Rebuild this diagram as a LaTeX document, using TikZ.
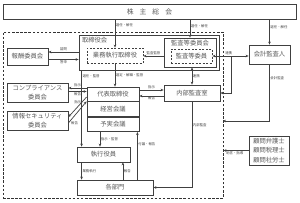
\documentclass[tikz,border=0pt]{standalone}
\usepackage{fontspec}
\setmainfont{Noto Sans CJK JP}
\usetikzlibrary{calc,arrows.meta}

\begin{document}
\begin{tikzpicture}[x=1pt,y=-1pt,
    box/.style={draw=black!75, line width=0.8pt, text=black!65, font=\fontsize{6.3}{8.5}\selectfont, inner sep=0pt, align=center},
    dbox/.style={box, dash pattern=on 2pt off 1.5pt},
    lbl/.style={font=\fontsize{3.4}{4}\selectfont, text=black!75, inner sep=0.6pt},
    link/.style={draw=black!75, line width=0.7pt, -{Stealth[length=3pt,width=2.6pt]}},
    linkb/.style={link, {Stealth[length=3pt,width=2.6pt]}-{Stealth[length=3pt,width=2.6pt]}}]
    \useasboundingbox (0,0) rectangle (300,202);

    \node[draw=black!80, line width=0.9pt, dash pattern=on 2.5pt off 1.6pt, minimum width=220pt, minimum height=166pt] (waku) at (113,115) {};

    \node[box, minimum width=293pt, minimum height=15pt, font=\fontsize{6.8}{8}\selectfont] (kabunushi) at (149.5,11.5) {株\hspace{6pt}主\hspace{6pt}総\hspace{6pt}会};

    \node[box, minimum width=140pt, minimum height=35pt] (torikai) at (149,52.5) {};
    \node[box, draw=none, anchor=north west] (torikaitxt) at ([xshift=3pt,yshift=-2.5pt]torikai.north west) {取締役会};
    \node[dbox, minimum width=56pt, minimum height=15pt] (gyomu) at (115,55.5) {業務執行取締役};
    \node[box, minimum width=52pt, minimum height=29pt] (kansakai) at (190,52.5) {};
    \node[box, draw=none, anchor=north] (kansakaitxt) at ([yshift=-2.5pt]kansakai.north) {監査等委員会};
    \node[dbox, minimum width=41pt, minimum height=14pt] (kansaiin) at (191.5,56) {監査等委員};
    \node[box, minimum width=41pt, minimum height=19pt] (kaikei) at (269.5,54.5) {会計監査人};

    \node[box, minimum width=41pt, minimum height=17pt] (hoshu) at (27.5,56.5) {報酬委員会};
    \node[box, minimum width=61pt, minimum height=19pt] (compl) at (37.5,92.5) {コンプライアンス\\委員会};
    \node[box, minimum width=61pt, minimum height=19pt] (joho) at (37.5,120.5) {情報セキュリティ\\委員会};

    \node[box, minimum width=52pt, minimum height=14pt] (daihyo) at (113,94) {代表取締役};
    \node[box, minimum width=52pt, minimum height=15pt, anchor=north] (keiei) at (daihyo.south) {経営会議};
    \node[box, minimum width=52pt, minimum height=14pt, anchor=north] (yojitsu) at (keiei.south) {予実会議};
    \node[box, minimum width=56pt, minimum height=16pt] (naibu) at (192,93) {内部監査室};
    \node[box, minimum width=53pt, minimum height=15pt] (shikko) at (103.5,154.5) {執行役員};
    \node[box, minimum width=76pt, minimum height=15pt] (kakubu) at (115,187.5) {各部門};
    \node[box, minimum width=40pt, minimum height=29pt, font=\fontsize{6.3}{9.5}\selectfont] (komon) at (269,150.5) {顧問弁護士\\顧問税理士\\顧問社労士};

    \coordinate (shimon) at ([yshift=4.5pt]hoshu.east);
    \coordinate (toshin) at ([yshift=-3pt]hoshu.east);
    \coordinate (renkei) at ([xshift=19pt]kansaiin.east);
    \coordinate (kaikeiend) at (223,121);
    \coordinate (shijiN) at ([yshift=4pt]daihyo.east);
    \coordinate (hokokuN) at ([yshift=-2pt]daihyo.east);
    \coordinate (shijiC) at ([yshift=6pt]daihyo.west);
    \coordinate (hokokuC) at ([yshift=2.5pt]daihyo.west);
    \coordinate (shijiJa) at ([yshift=-3pt]daihyo.west);
    \coordinate (shijiJb) at ([yshift=3.5pt]joho.east);
    \coordinate (hokokuJa) at ([yshift=-2.5pt]joho.east);
    \coordinate (hokokuJb) at (daihyo.south west);
    \coordinate (senninX) at ([xshift=5pt]shikko.north west);
    \coordinate (shijiK) at ([xshift=-3.5pt]shikko.north);
    \coordinate (hokokuS) at ([xshift=-7.5pt]shikko.south east);
    \coordinate (fugi) at ([xshift=-2pt]yojitsu.south east);

    \draw[link] (kabunushi.south -| gyomu.north) -- node[lbl, right, pos=0.22] {選任・解任} (gyomu.north);
    \draw[link] (kabunushi.south -| kansakai.north) -- node[lbl, right, pos=0.4] {選任・解任} (kansakai.north);
    \draw[link] (kabunushi.south -| kaikei.north) -- node[lbl, right, pos=0.3] {選任・解任} (kaikei.north);

    \draw[link] (kansakai.west |- kansaiin.west) -- node[lbl, above] {監査監督} (gyomu.east |- kansaiin.west);
    \draw[link] (torikai.west |- shimon) -- node[lbl, above] {諮問} (shimon);
    \draw[link] (toshin) -- node[lbl, below] {答申} (torikai.west |- toshin);

    \draw[linkb] (kansaiin.east) -- node[lbl, above, pos=0.45] {連携} (kaikei.west |- kansaiin.east);
    \draw[link] (renkei) |- (naibu.east);
    \draw[linkb] (naibu.north |- kansakai.south) -- node[lbl, right] {連携} (naibu.north);
    \draw[link] (kaikei.south) |- node[lbl, right, pos=0.12] {会計監査} (kaikeiend);
    \draw[link] (komon.west) -- node[lbl, below, pos=0.55] {助言・指導} (waku.east |- komon.west);
    \draw[link] (naibu.south) |- node[lbl, right, pos=0.14] {内部監査} (kakubu.east);

    \draw[link] (shijiN) -- node[lbl, above] {指示} (naibu.west |- shijiN);
    \draw[link] (naibu.west |- hokokuN) -- node[lbl, below] {報告} (hokokuN);
    \draw[link] (shijiC) -- node[lbl, above] {指示} (compl.east |- shijiC);
    \draw[link] (compl.east |- hokokuC) -- node[lbl, below] {報告} (hokokuC);
    \draw[link] (shijiJa) -- node[lbl, left, pos=0.25] {指示} (shijiJb);
    \draw[link] (hokokuJa) -- node[lbl, below right, pos=0.1] {報告} (hokokuJb);

    \draw[link] (torikai.south -| senninX) -- node[lbl, right, pos=0.07] {選任・監督} (senninX);
    \draw[link] (gyomu.south) -- node[lbl, right] {選定・解職・監督} (gyomu.south |- daihyo.north);
    \draw[link] (yojitsu.south -| shijiK) -- node[lbl, right] {指示・監督} (shijiK);
    \draw[link] (shikko.south -| senninX) -- node[lbl, right] {業務執行} (kakubu.north -| senninX);
    \draw[link] (kakubu.north -| hokokuS) -- node[lbl, right] {報告} (hokokuS);
    \draw[link] (kakubu.north -| fugi) -- node[lbl, right, pos=0.74] {付議・報告} (fugi);
\end{tikzpicture}
\end{document}
